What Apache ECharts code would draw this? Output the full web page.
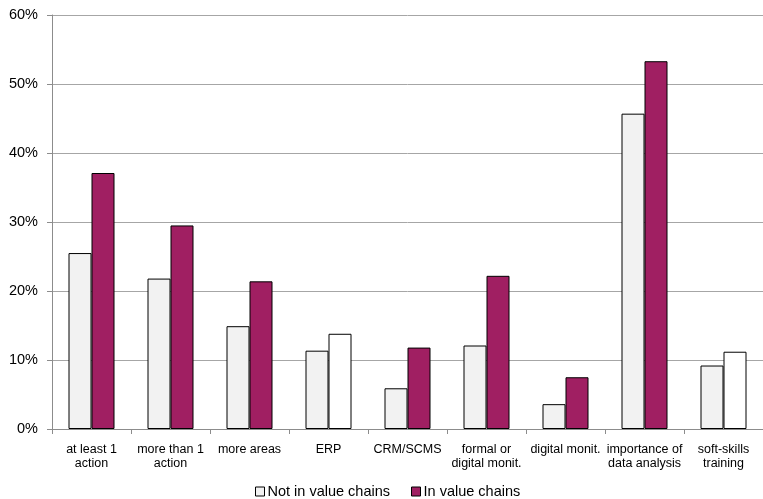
<!DOCTYPE html>
<html>
<head>
<meta charset="utf-8">
<script src="https://cdn.jsdelivr.net/npm/echarts@6/dist/echarts.min.js"></script>
<style>
  html, body { margin: 0; padding: 0; background: #fff; }
  #chart { width: 763px; height: 499px; }
</style>
</head>
<body>
<div id="chart"></div>
<script>
// Share of firms (%) by digital practice, split by value-chain participation
const categories = [
  'at least 1\naction', 'more than 1\naction', 'more areas', 'ERP', 'CRM/SCMS',
  'formal or\ndigital monit.', 'digital monit.', 'importance of\ndata analysis', 'soft-skills\ntraining'
];
const notInValueChains = [25.5, 21.8, 14.9, 11.35, 5.9, 12.1, 3.6, 45.7, 9.2];
const inValueChains = [37.1, 29.5, 21.4, 13.8, 11.8, 22.2, 7.5, 53.3, 11.2];
// Categories where the in-value-chain bar is drawn unfilled
const notSignificant = [false, false, false, true, false, false, false, false, true];
const yTicks = [0, 10, 20, 30, 40, 50, 60];

const purple = '#A01F62';
const light = '#F2F2F2';

const chart = echarts.init(document.getElementById('chart'));
chart.setOption({
  animation: false,
  textStyle: { fontFamily: 'Liberation Sans, Arial, sans-serif' },
  grid: { left: 52, right: 0, top: 15, bottom: 70, containLabel: false },
  legend: {
    top: 484,
    left: 255,
    padding: 0,
    itemWidth: 9,
    itemHeight: 9,
    itemGap: 21,
    textStyle: { fontSize: 14.5, color: '#000', padding: [0, 0, 0, -2] },
    data: [
      { name: 'Not in value chains', icon: 'rect', itemStyle: { color: light, borderColor: '#000', borderWidth: 1 } },
      { name: 'In value chains', icon: 'rect', itemStyle: { color: purple, borderColor: '#000', borderWidth: 1 } }
    ]
  },
  xAxis: {
    type: 'category',
    data: categories,
    axisLine: { lineStyle: { color: '#8C8C8C' } },
    axisTick: { show: true, length: 5, lineStyle: { color: '#8C8C8C' } },
    axisLabel: { color: '#000', fontSize: 12.5, margin: 14, lineHeight: 14, interval: 0 }
  },
  yAxis: {
    type: 'value',
    min: yTicks[0],
    max: yTicks[yTicks.length - 1],
    interval: 10,
    axisLine: { show: true, lineStyle: { color: '#8C8C8C' } },
    axisTick: { show: true, length: 5, lineStyle: { color: '#8C8C8C' } },
    axisLabel: { color: '#000', fontSize: 14.5, margin: 14, formatter: v => v + '%' },
    splitLine: { lineStyle: { color: '#A6A6A6', width: 1 } }
  },
  series: [
    {
      name: 'Not in value chains',
      type: 'bar',
      barWidth: 23,
      barGap: '0%',
      data: notInValueChains,
      itemStyle: { color: light, borderColor: '#000', borderWidth: 1 }
    },
    {
      name: 'In value chains',
      type: 'bar',
      barWidth: 23,
      barGap: '0%',
      data: inValueChains.map((v, i) => ({
        value: v,
        itemStyle: { color: notSignificant[i] ? '#FFFFFF' : purple }
      })),
      itemStyle: { color: purple, borderColor: '#000', borderWidth: 1 }
    }
  ]
});
</script>
</body>
</html>
